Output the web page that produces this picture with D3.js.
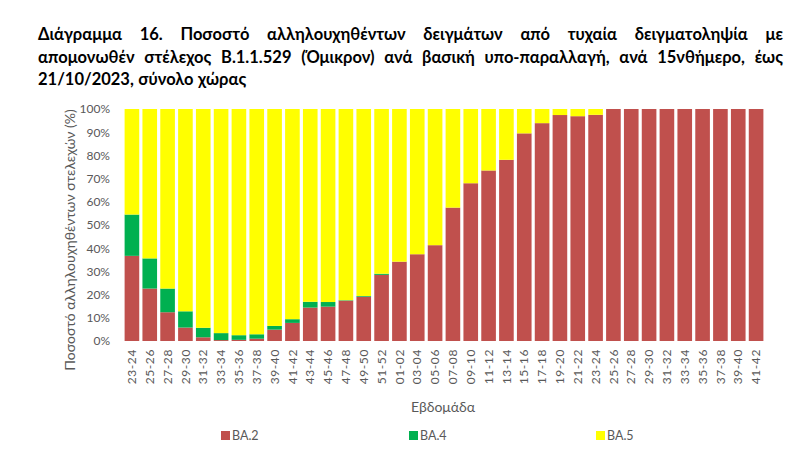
<!DOCTYPE html>
<html><head><meta charset="utf-8">
<script src="https://cdn.jsdelivr.net/npm/d3@7"></script>
<style>body{margin:0;background:#fff;} svg{display:block;font-family:Lato,"Noto Sans",sans-serif;}</style>
</head><body><svg id="c" width="800" height="467"></svg>
<script>
const titleLines = [
 "Διάγραμμα 16. Ποσοστό αλληλουχηθέντων δειγμάτων από τυχαία δειγματοληψία με",
 "απομονωθέν στέλεχος Β.1.1.529 (Όμικρον) ανά βασική υπο-παραλλαγή, ανά 15νθήμερο, έως",
 "21/10/2023, σύνολο χώρας"
];
const categories = ["23-24","25-26","27-28","29-30","31-32","33-34","35-36","37-38","39-40","41-42","43-44","45-46","47-48","49-50","51-52","01-02","03-04","05-06","07-08","09-10","11-12","13-14","15-16","17-18","19-20","21-22","23-24","25-26","27-28","29-30","31-32","33-34","35-36","37-38","39-40","41-42"];
const ba2 = [36.7,22.6,12.4,5.8,1.6,0.4,0.5,1.0,4.9,7.8,14.4,14.8,17.4,19.1,28.5,34.2,37.4,41.3,57.5,68.0,73.5,78.1,89.5,93.9,97.4,96.9,97.5,100,100,100,100,100,100,100,100,100];
const ba4 = [17.8,13.0,10.2,7.0,4.1,3.0,2.0,1.9,1.6,1.6,2.5,2.0,0.2,0.3,0.5,0,0,0,0,0,0,0,0,0,0,0,0,0,0,0,0,0,0,0,0,0];
const ba5 = ba2.map((v,i)=>Math.max(0, +(100 - v - ba4[i]).toFixed(1)));
const seriesNames = ["BA.2","BA.4","BA.5"];
const colors = ["#C0504D","#00B050","#FFFF00"];
const yTicks = [0,10,20,30,40,50,60,70,80,90,100];
const yTitle = "Ποσοστό αλληλουχηθέντων στελεχών (%)";
const xTitle = "Εβδομάδα";

const svg = d3.select("#c");
// Title, justified
const tg = svg.append("g").attr("font-weight","bold").attr("font-size",16.5).attr("fill","#000");
const tx0 = 38, tx1 = 783, tys = [40, 63, 85];
titleLines.forEach((line,li)=>{
  const words = line.split(" ");
  const ws = words.map(w=>{
    const t = tg.append("text").attr("x",-1000).attr("y",-1000).text(w);
    const wd = t.node().getComputedTextLength(); t.remove(); return wd;});
  const total = d3.sum(ws);
  const justify = li < titleLines.length-1;
  const gap = justify ? (tx1-tx0-total)/(words.length-1) : 4.5;
  let x = tx0;
  words.forEach((w,i)=>{ tg.append("text").attr("x",x).attr("y",tys[li]).text(w); x += ws[i]+gap; });
});

const x = d3.scaleBand().domain(d3.range(categories.length)).range([123,765]).paddingInner(0.18).paddingOuter(0.09);
const y = d3.scaleLinear().domain([0,100]).range([341,109]);

const table = categories.map((c,i)=>({i, "BA.2":ba2[i], "BA.4":ba4[i], "BA.5":ba5[i]}));
const stack = d3.stack().keys(seriesNames)(table);
svg.append("g").selectAll("g").data(stack).join("g").attr("fill",(d,i)=>colors[i])
 .selectAll("rect").data(d=>d).join("rect")
 .attr("x",d=>x(d.data.i)).attr("width",x.bandwidth())
 .attr("y",d=>y(d[1])).attr("height",d=>Math.max(0,y(d[0])-y(d[1])));

// y axis
const ya = svg.append("g").attr("transform","translate(112,0)")
 .call(d3.axisLeft(y).tickValues(yTicks).tickSize(0).tickPadding(2).tickFormat(d=>d+"%"));
ya.select(".domain").remove();
ya.selectAll("text").attr("font-size",12).attr("fill","#595959").attr("font-family","Lato,'Noto Sans',sans-serif");

// x axis
const xa = svg.append("g").attr("transform","translate(0,347)")
 .call(d3.axisBottom(x).tickSize(0).tickPadding(0).tickFormat(i=>categories[i]));
xa.select(".domain").remove();
xa.selectAll("text").attr("font-size",12).attr("fill","#595959").attr("font-family","Lato,'Noto Sans',sans-serif")
 .attr("text-anchor","end").attr("dy","0.35em").attr("transform","translate(0,2) rotate(-90)").attr("x",0).attr("y",0)
 .attr("letter-spacing","0.6px");

svg.append("text").attr("x",443).attr("y",412).attr("text-anchor","middle").attr("font-size",14).attr("fill","#595959").text(xTitle);
svg.append("text").attr("transform","translate(70,240) rotate(-90)").attr("text-anchor","middle").attr("dy","0.35em").attr("font-size",14).attr("fill","#595959").text(yTitle);

// legend
const lx = [221, 409, 596];
const lg = svg.append("g");
seriesNames.forEach((n,i)=>{
  lg.append("rect").attr("x",lx[i]).attr("y",431).attr("width",9).attr("height",9).attr("fill",colors[i]);
  lg.append("text").attr("x",lx[i]+11).attr("y",436).attr("dy","0.35em").attr("font-size",12.5).attr("fill","#595959").text(n);
});
</script></body></html>
